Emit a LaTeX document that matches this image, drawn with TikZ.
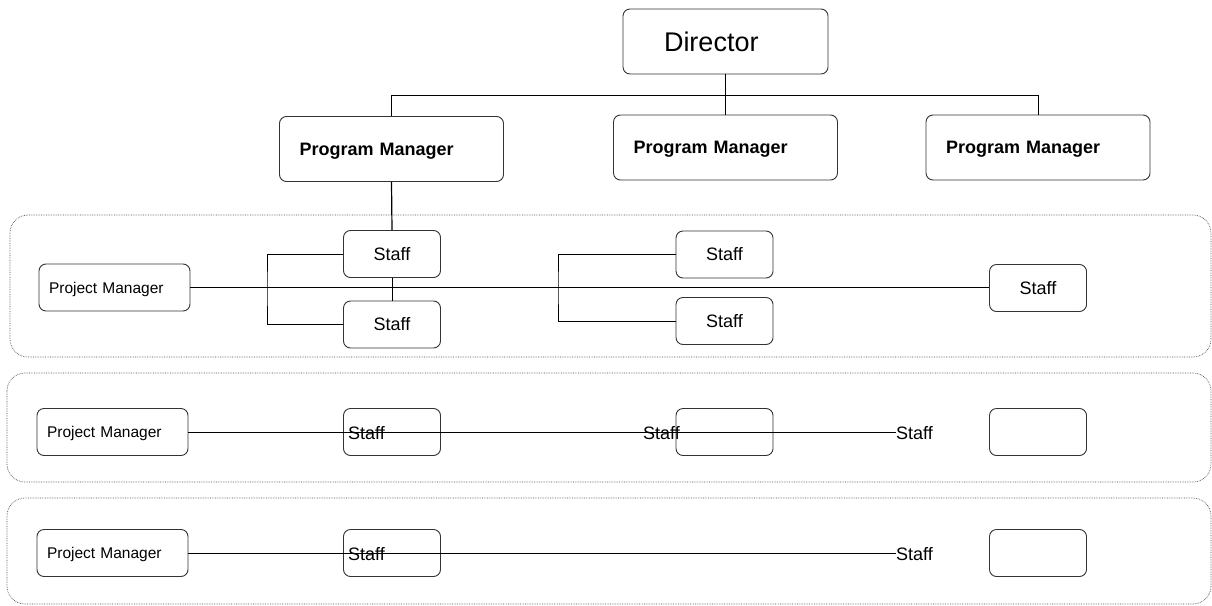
\documentclass[tikz,border=0pt]{standalone}
\usepackage{fontspec}
\setmainfont{Liberation Sans}
\begin{document}
\begin{tikzpicture}[x=1pt,y=-1pt,
  box/.style={draw=black!80, line width=0.9pt, rounded corners=7pt, inner sep=0pt, shape=rectangle},
  dirbox/.style={box, minimum height=65pt, text width=123pt, inner xsep=41pt, align=left, font=\fontsize{27}{30}\selectfont},
  pgbox/.style={box, minimum height=65pt, text width=184pt, inner xsep=20pt, align=left, text depth=0pt, font=\bfseries\fontsize{18}{20}\selectfont},
  pmbox/.style={box, minimum height=47pt, text width=131pt, inner xsep=10pt, align=left, text depth=0pt, font=\fontsize{15.5}{17}\selectfont},
  staffbox/.style={box, minimum width=97pt, minimum height=47pt, font=\fontsize{18}{20}\selectfont},
  stafftext/.style={inner sep=0pt, font=\fontsize{18}{20}\selectfont},
  group/.style={draw=black!70, densely dotted, line width=0.7pt, rounded corners=18pt},
  conn/.style={draw=black, line width=0.8pt}]
\useasboundingbox (0,0) rectangle (1212,605);

% group frames
\draw[group] (10,215) rectangle (1211,357);
\draw[group] (7,373) rectangle (1211,482);
\draw[group] (7,498) rectangle (1211,604);

% top
\node[dirbox] (dir) at (725.5,41.5) {Director};
\node[pgbox] (pg1) at (391.5,149) {Program Manager};
\node[pgbox] (pg2) at (725.5,147.5) {Program Manager};
\node[pgbox] (pg3) at (1038,147.5) {Program Manager};
\coordinate (hb) at (0,95);

% row 1
\node[pmbox] (pm1) at (114.5,287.5) {Project Manager};
\node[staffbox] (s11) at (392,254) {Staff};
\node[staffbox] (s12) at (392,324.5) {Staff};
\node[staffbox] (s13) at (724.5,254.5) {Staff};
\node[staffbox] (s14) at (724.5,321) {Staff};
\node[staffbox] (s15) at (1038,288) {Staff};
\coordinate (bA) at (267,288);
\coordinate (bB) at (558,288);

% row 2
\node[pmbox] (pm2) at (112.5,432) {Project Manager};
\node[staffbox] (b21) at (392,432) {};
\node[staffbox] (b22) at (724.5,432) {};
\node[staffbox] (b23) at (1038,432) {};
\node[stafftext, anchor=base west] (t21) at (348,439) {Staff};
\node[stafftext, anchor=base east] (t22) at (680,439) {Staff};
\node[stafftext, anchor=base west] (t23) at (896,439) {Staff};

% row 3
\node[pmbox] (pm3) at (112.5,553) {Project Manager};
\node[staffbox] (b31) at (392,553) {};
\node[staffbox] (b33) at (1038,553) {};
\node[stafftext, anchor=base west] (t31) at (348,560) {Staff};
\node[stafftext, anchor=base west] (t33) at (896,560) {Staff};

% connectors top
\draw[conn] (dir.south) -- (pg2.north);
\draw[conn] (pg1.north) |- (pg3.north |- hb) -- (pg3.north);
\draw[conn, line width=1.2pt] (pg1.south) -- (s11.north);
\draw[conn, line width=0.7pt] (s11.south) -- (s12.north);

% row 1 connectors
\draw[conn, line width=1pt] (pm1.east) -- (pm1.east -| s15.west);
\draw[conn] (s11.west) -| (bA) |- (s12.west);
\draw[conn] (s13.west) -| (bB) |- (s14.west);

% row 2 / 3 connectors
\draw[conn] (pm2.east) -- (pm2.east -| t23.west);
\draw[conn] (pm3.east) -- (pm3.east -| t33.west);
\end{tikzpicture}
\end{document}
